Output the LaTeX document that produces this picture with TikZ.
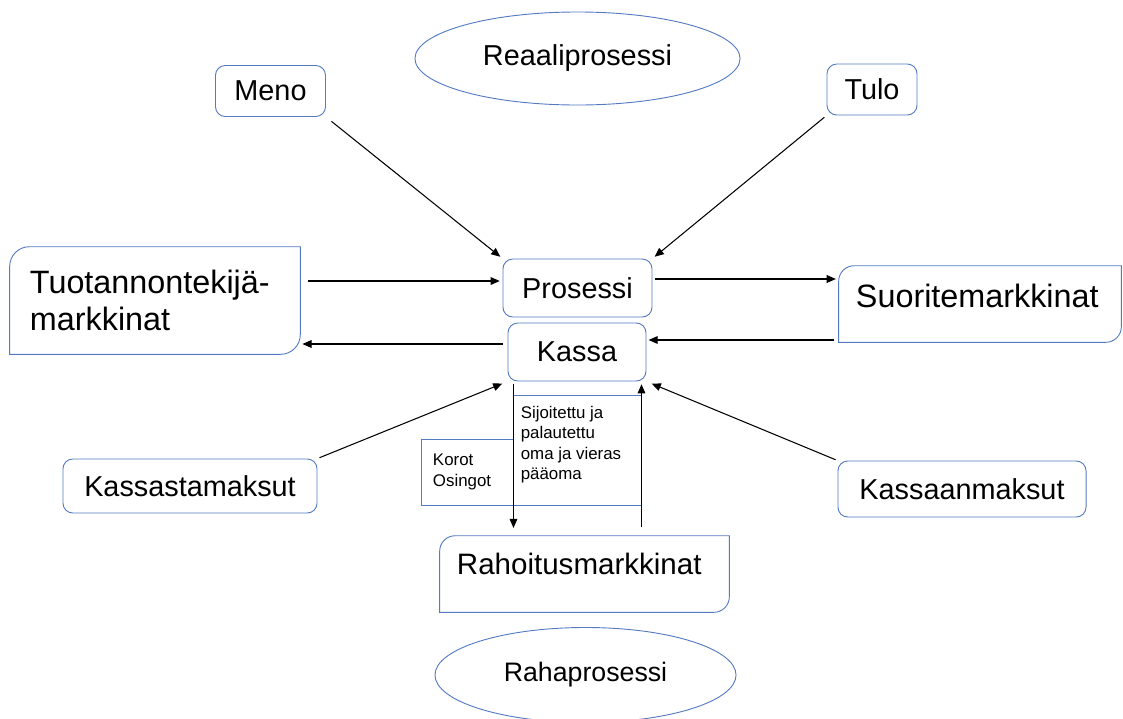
\documentclass[tikz,border=0pt]{standalone}
\usepackage{fontspec}
\setmainfont{Liberation Sans}
\usetikzlibrary{shapes.geometric,arrows.meta}
\definecolor{boxblue}{RGB}{84,122,194}
\tikzstyle{frame}=[draw=boxblue,line width=0.65pt]
\tikzstyle{roundbox}=[frame,rounded corners=7pt,minimum height=1.275cm,font=\fontsize{20.5}{24}\selectfont]
\tikzstyle{bigbox}=[inner xsep=0pt,align=left,font=\fontsize{23}{26.3}\selectfont]
\tikzstyle{oval}=[frame,ellipse,inner sep=0pt]
\tikzstyle{plainbox}=[frame,inner sep=0pt]
\tikzstyle{smalltext}=[font=\fontsize{12}{14.6}\selectfont]
\tikzstyle{flow}=[-{Triangle[length=6.5pt,width=5.5pt]},line width=0.75pt]
\newcommand{\diagframe}[2]{
% rounds only the top left and bottom right corners of a node
\draw[frame] (#1.south west) -- ([yshift=-#2]#1.north west) arc[start angle=180,end angle=90,radius=#2]
  -- (#1.north east) -- ([yshift=#2]#1.south east) arc[start angle=0,end angle=-90,radius=#2] -- cycle;
}

\begin{document}
\begin{tikzpicture}[x=0.025cm,y=0.025cm] % one unit = one pixel of the reference
\useasboundingbox (0,0) rectangle (1123,-718);

\node[oval,minimum width=8.125cm,minimum height=2.325cm,font=\fontsize{20.5}{24}\selectfont] (real) at (577.5,-58.5) {Reaaliprosessi};
\node[oval,minimum width=7.525cm,minimum height=2.375cm,font=\fontsize{19}{22}\selectfont] (rahap) at (585.5,-675) {Rahaprosessi};

\node[roundbox,minimum width=2.75cm] (meno) at (270.5,-91) {Meno};
\node[roundbox,minimum width=2.25cm] (tulo) at (872,-89.5) {Tulo};
\node[roundbox,minimum width=3.725cm,minimum height=1.45cm] (pros) at (577.5,-288) {Prosessi};
\node[roundbox,minimum width=3.45cm,minimum height=1.45cm] (kassa) at (577,-352) {Kassa};
\node[roundbox,minimum width=6.35cm,minimum height=1.35cm] (kout) at (190,-486) {Kassastamaksut};
\node[roundbox,minimum width=6.2cm,minimum height=1.4cm] (kin) at (962,-489) {Kassaanmaksut};

\node[bigbox,text width=6.25cm,minimum width=7.25cm,minimum height=2.675cm] (tuot) at (155,-300.5) {Tuotannontekij\"a-\\markkinat};
\node[bigbox,text width=6.2cm,minimum width=7.05cm,minimum height=1.9cm,text height=16.5pt,text depth=12.2pt] (suor) at (980,-304) {Suoritemarkkinat};
\node[bigbox,font=\fontsize{21}{24}\selectfont,text width=6.375cm,minimum width=7.225cm,minimum height=1.9cm,text height=15pt,text depth=13.6pt] (raho) at (584.5,-574) {Rahoitusmarkkinat};
\diagframe{tuot}{14pt}
\diagframe{suor}{11pt}
\diagframe{raho}{11pt}

\node[plainbox,smalltext,minimum width=2.3cm,minimum height=1.65cm,text width=1.7cm,align=left] (korot) at (467,-472) {Korot\\Osingot};
\node[plainbox,minimum width=3.2cm,minimum height=2.75cm] (sijo) at (577,-450) {};
\node[smalltext,anchor=north west,inner sep=0pt,align=left] (sijotxt) at ([shift={(8,-11)}]sijo.north west) {Sijoitettu ja\\palautettu\\oma ja vieras\\p\"a\"aoma};

% real flows
\draw[flow,shorten <=5.5pt,shorten >=2pt] (tuot.east |- 0,-281) -- (pros.west |- 0,-281);
\draw[flow,shorten <=2pt,shorten >=2pt] (pros.east |- 0,-279) -- (suor.west |- 0,-279);
\draw[flow,shorten <=5pt,shorten >=2pt] (meno.south east) -- (pros.north west);
\draw[flow,shorten <=2pt,shorten >=2pt] (tulo.south west) -- (pros.north east);
% money flows
\draw[flow,shorten <=3pt,shorten >=1.5pt] (suor.west |- 0,-340) -- (kassa.east |- 0,-340);
\draw[flow,shorten <=3.5pt,shorten >=1.5pt] (kassa.west |- 0,-344) -- (tuot.east |- 0,-344);
\draw[flow,shorten <=1.5pt,shorten >=4pt] (kout.north east) -- (kassa.south west);
\draw[flow,shorten <=1.5pt,shorten >=4pt] (kin.north west) -- (kassa.south east);
\draw[flow,shorten <=1.5pt,shorten >=5.5pt] (kassa.south -| korot.east) -- (raho.north -| korot.east);
\draw[flow,shorten <=6pt,shorten >=2pt] (raho.north -| sijo.east) -- (kassa.south -| sijo.east);
\end{tikzpicture}
\end{document}
